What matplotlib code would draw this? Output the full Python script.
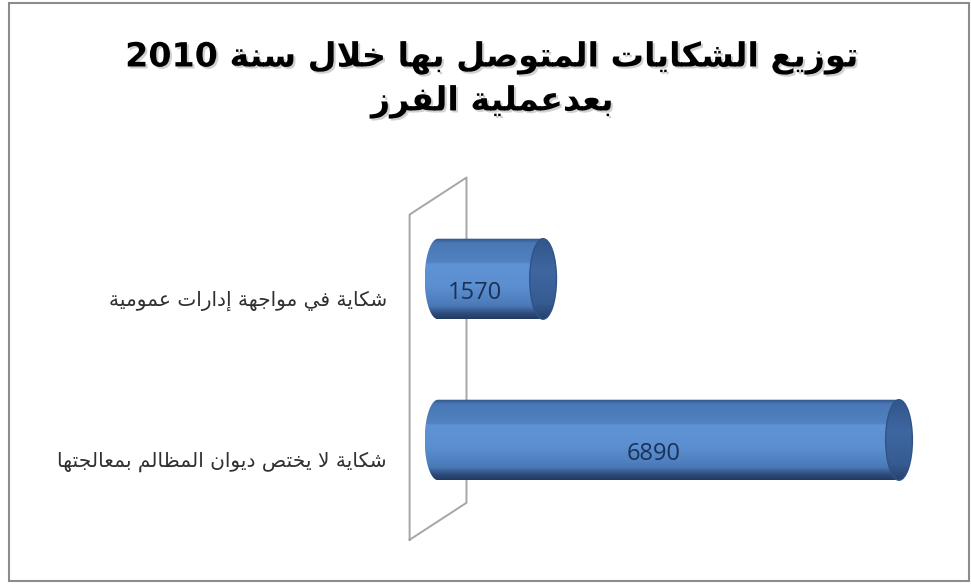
import re

import matplotlib
matplotlib.use("Agg")
import matplotlib.pyplot as plt
import matplotlib.patheffects as pe
import numpy as np
from matplotlib.patches import Ellipse, PathPatch, Rectangle
from matplotlib.path import Path
from matplotlib.lines import Line2D

# chart data
title_lines = ["توزيع الشكايات المتوصل بها خلال سنة 2010", "بعدعملية الفرز"]
categories = ["شكاية لا يختص ديوان المظالم بمعالجتها", "شكاية في مواجهة إدارات عمومية"]
values = [6890, 1570]

# contextual forms: isolated, final, initial, medial
FORMS = {
    "ا": (0xFE8D, 0xFE8E, None, None),
    "إ": (0xFE87, 0xFE88, None, None),
    "ب": (0xFE8F, 0xFE90, 0xFE91, 0xFE92),
    "ة": (0xFE93, 0xFE94, None, None),
    "ت": (0xFE95, 0xFE96, 0xFE97, 0xFE98),
    "ج": (0xFE9D, 0xFE9E, 0xFE9F, 0xFEA0),
    "ح": (0xFEA1, 0xFEA2, 0xFEA3, 0xFEA4),
    "خ": (0xFEA5, 0xFEA6, 0xFEA7, 0xFEA8),
    "د": (0xFEA9, 0xFEAA, None, None),
    "ر": (0xFEAD, 0xFEAE, None, None),
    "ز": (0xFEAF, 0xFEB0, None, None),
    "س": (0xFEB1, 0xFEB2, 0xFEB3, 0xFEB4),
    "ش": (0xFEB5, 0xFEB6, 0xFEB7, 0xFEB8),
    "ص": (0xFEB9, 0xFEBA, 0xFEBB, 0xFEBC),
    "ط": (0xFEC1, 0xFEC2, 0xFEC3, 0xFEC4),
    "ظ": (0xFEC5, 0xFEC6, 0xFEC7, 0xFEC8),
    "ع": (0xFEC9, 0xFECA, 0xFECB, 0xFECC),
    "ف": (0xFED1, 0xFED2, 0xFED3, 0xFED4),
    "ك": (0xFED9, 0xFEDA, 0xFEDB, 0xFEDC),
    "ل": (0xFEDD, 0xFEDE, 0xFEDF, 0xFEE0),
    "م": (0xFEE1, 0xFEE2, 0xFEE3, 0xFEE4),
    "ن": (0xFEE5, 0xFEE6, 0xFEE7, 0xFEE8),
    "ه": (0xFEE9, 0xFEEA, 0xFEEB, 0xFEEC),
    "و": (0xFEED, 0xFEEE, None, None),
    "ي": (0xFEF1, 0xFEF2, 0xFEF3, 0xFEF4),
    "ى": (0xFEEF, 0xFEF0, None, None),
    "لا": (0xFEFB, 0xFEFC, None, None),
    "لإ": (0xFEF9, 0xFEFA, None, None),
}


def shape_arabic(text):
    """Join Arabic letters and put the string in display (left-to-right) order."""
    tokens = []
    i = 0
    while i < len(text):
        if text[i] == "ل" and i + 1 < len(text) and text[i + 1] in "اإ":
            tokens.append(text[i:i + 2])
            i += 2
        else:
            tokens.append(text[i])
            i += 1

    out = []
    for k, tok in enumerate(tokens):
        if tok not in FORMS:
            out.append(tok)
            continue
        prev = tokens[k - 1] if k > 0 else None
        nxt = tokens[k + 1] if k + 1 < len(tokens) else None
        joins_prev = prev in FORMS and FORMS[prev][2] is not None
        joins_next = FORMS[tok][2] is not None and nxt in FORMS
        if joins_prev and joins_next:
            idx = 3
        elif joins_prev:
            idx = 1
        elif joins_next:
            idx = 2
        else:
            idx = 0
        out.append(chr(FORMS[tok][idx]))

    visual = "".join(out)[::-1]
    return re.sub(r"[0-9]+", lambda m: m.group(0)[::-1], visual)


def vertical_gradient(stops, n=200):
    pos = np.array([s[0] for s in stops])
    cols = np.array([s[1] for s in stops], dtype=float) / 255.0
    t = np.linspace(0, 1, n)
    rgb = np.stack([np.interp(t, pos, cols[:, c]) for c in range(3)], axis=1)
    return rgb[:, None, :]


BODY_STOPS = [
    (0.00, (48, 82, 135)),
    (0.06, (74, 120, 182)),
    (0.30, (82, 130, 194)),
    (0.32, (96, 147, 213)),
    (0.60, (92, 143, 208)),
    (0.84, (74, 121, 184)),
    (0.93, (46, 76, 124)),
    (1.00, (34, 58, 98)),
]
CAP_STOPS = [
    (0.00, (50, 86, 140)),
    (0.40, (62, 102, 160)),
    (0.80, (55, 92, 146)),
    (1.00, (38, 66, 110)),
]


def cylinder_path(y, length, half_h, half_w, n=60):
    # left half-ellipse, top edge, right half-ellipse, bottom edge
    t_left = np.linspace(np.pi / 2, 3 * np.pi / 2, n)
    t_right = np.linspace(-np.pi / 2, np.pi / 2, n)
    left = np.column_stack([half_w * np.cos(t_left), y + half_h * np.sin(t_left)])
    right = np.column_stack([length + half_w * np.cos(t_right), y + half_h * np.sin(t_right)])
    verts = np.vstack([left, right, left[:1]])
    codes = [Path.MOVETO] + [Path.LINETO] * (len(verts) - 2) + [Path.CLOSEPOLY]
    return Path(verts, codes)


fig = plt.figure(figsize=(9.71, 5.85), dpi=100)
fig.patch.set_facecolor("white")

# outer chart frame
fig.add_artist(Rectangle((9 / 971, 4 / 585), 960 / 971, 578 / 585,
                         transform=fig.transFigure, fill=False,
                         edgecolor="#8c8c8c", linewidth=1.5))

ax = fig.add_axes([0.4029, 0.069, 0.5650, 0.6413])
ax.axis("off")

bar_half_h = 0.25
cap_half_w = 200
wall_half_depth = 425

# back wall of the 3D plot area
wall_x = [-wall_half_depth, -wall_half_depth, wall_half_depth, wall_half_depth, -wall_half_depth]
wall_y = [-0.62, 1.40, 1.63, -0.39, -0.62]
ax.add_line(Line2D(wall_x, wall_y, color="#a6a6a6", linewidth=1.4, zorder=1))

body_img = vertical_gradient(BODY_STOPS)
cap_img = vertical_gradient(CAP_STOPS)

for i, (label, value) in enumerate(zip(categories, values)):
    path = cylinder_path(i, value, bar_half_h, cap_half_w)
    outline = PathPatch(path, facecolor="none", edgecolor="none", zorder=2)
    ax.add_patch(outline)
    im = ax.imshow(body_img, extent=(-cap_half_w, value + cap_half_w, i - bar_half_h, i + bar_half_h),
                   aspect="auto", origin="upper", interpolation="bilinear", zorder=2)
    im.set_clip_path(outline)

    cap = Ellipse((value, i), 2 * cap_half_w, 2 * bar_half_h, facecolor="none",
                  edgecolor="#2f5486", linewidth=1.0, zorder=4)
    ax.add_patch(cap)
    cap_im = ax.imshow(cap_img, extent=(value - cap_half_w, value + cap_half_w, i - bar_half_h, i + bar_half_h),
                       aspect="auto", origin="upper", interpolation="bilinear", zorder=3)
    cap_im.set_clip_path(cap)

    ax.annotate(str(value), (value / 2, i), xytext=(-11, -10), textcoords="offset points",
                ha="center", va="center", fontsize=17, color="#1a3158",
                family=["Open Sans", "DejaVu Sans"], zorder=5)

    ax.annotate(shape_arabic(label), (-700, i), xytext=(-3, -16), textcoords="offset points",
                ha="right", va="center", fontsize=14.5, color="#303030",
                family="DejaVu Sans", annotation_clip=False)

ax.set_xlim(-700, 7500)
ax.set_ylim(-0.65, 1.68)

title_fx = [pe.SimplePatchShadow(offset=(1.5, -1.5), shadow_rgbFace="#9a9a9a", alpha=0.45), pe.Normal()]
fig.text(493 / 971, 1 - 58 / 585, shape_arabic(title_lines[0]), ha="center", va="center",
         fontsize=24, fontweight="bold", family="DejaVu Sans", color="black", path_effects=title_fx)
fig.text(493 / 971, 1 - 102 / 585, shape_arabic(title_lines[1]), ha="center", va="center",
         fontsize=24, fontweight="bold", family="DejaVu Sans", color="black", path_effects=title_fx)

fig.savefig("out.png", dpi=100, facecolor="white")
